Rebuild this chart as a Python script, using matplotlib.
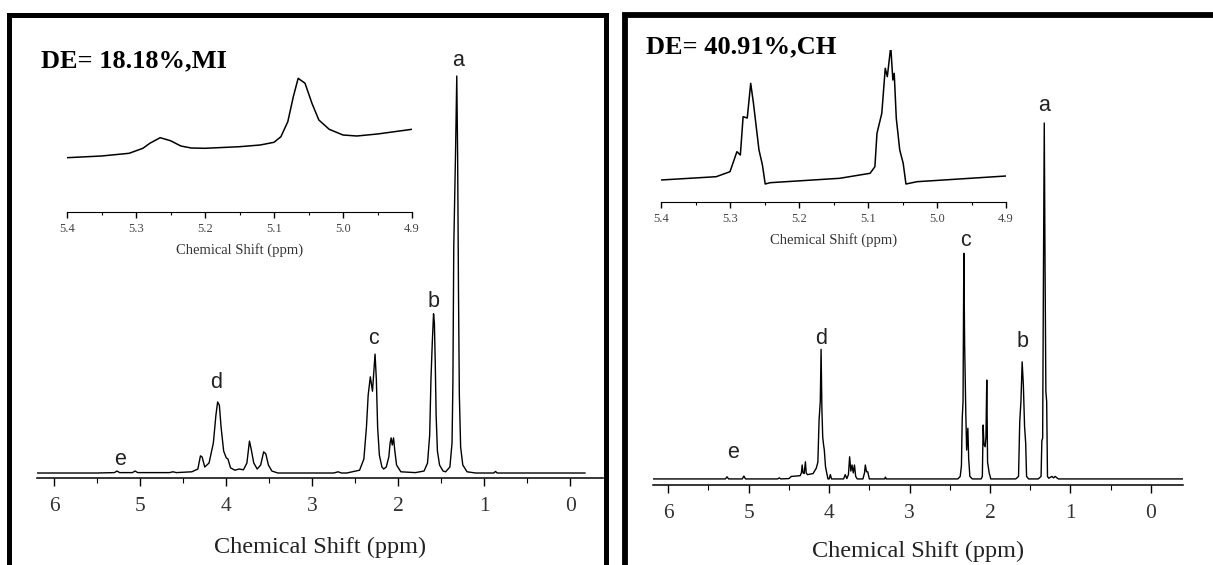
import matplotlib.pyplot as plt
from matplotlib.lines import Line2D
from matplotlib.ticker import MultipleLocator

W, H = 1213, 565

# ---- left panel (MI) main spectrum: ppm / intensity (% of peak a) ----
mi_ppm = [
    6.20, 5.50, 5.30, 5.27, 5.24, 5.09, 5.06, 5.03, 4.66, 4.62, 4.58, 4.40,
    4.33, 4.30, 4.28, 4.25, 4.20, 4.15, 4.12, 4.10, 4.08, 4.06, 4.03, 4.00, 3.98, 3.95,
    3.90, 3.85, 3.80, 3.76, 3.73, 3.71, 3.68, 3.64, 3.60, 3.565, 3.54, 3.51, 3.47, 3.40,
    2.75, 2.70, 2.66, 2.60,
    2.45, 2.40, 2.37, 2.35, 2.325, 2.30, 2.27, 2.255, 2.24, 2.22, 2.19,
    2.17, 2.14, 2.11, 2.095, 2.083, 2.07, 2.055, 2.04, 2.02, 1.97,
    1.80, 1.70, 1.66, 1.635, 1.62, 1.605, 1.59, 1.58, 1.57, 1.56, 1.545, 1.52, 1.48,
    1.45, 1.40, 1.375, 1.365, 1.355, 1.335, 1.32, 1.31, 1.30, 1.29, 1.275, 1.25, 1.20,
    1.10, 0.89, 0.87, 0.85, 0.60, -0.17,
]
mi_int = [
    0.5, 0.5, 0.6, 1.0, 0.6, 0.6, 1.0, 0.6, 0.6, 0.8, 0.6, 0.8,
    1.5, 4.8, 4.5, 2.0, 3.0, 8.0, 15.0, 18.3, 17.5, 12.0, 6.0, 4.3, 4.0, 1.8,
    1.2, 1.5, 1.3, 3.0, 8.5, 6.5, 3.0, 1.5, 2.5, 5.8, 5.3, 2.5, 1.0, 0.5,
    0.5, 0.8, 0.5, 0.5,
    1.2, 4.0, 12.0, 20.0, 24.6, 21.0, 30.3, 24.0, 12.0, 5.0, 2.0,
    1.5, 2.0, 4.5, 8.0, 9.3, 7.5, 9.3, 6.0, 2.5, 0.8,
    0.6, 1.0, 3.0, 10.0, 24.0, 33.0, 40.4, 38.0, 28.0, 15.0, 6.0, 2.5, 1.0,
    0.8, 2.0, 8.0, 23.0, 57.0, 80.0, 100.0, 80.0, 46.0, 20.0, 7.0, 2.5, 0.8,
    0.5, 0.5, 0.9, 0.5, 0.5, 0.5,
]

# left inset (5.4 - 4.9 ppm), intensity in arbitrary units
mi_in_ppm = [5.40, 5.35, 5.31, 5.29, 5.28, 5.265, 5.25, 5.235, 5.22, 5.20, 5.15, 5.12,
             5.10, 5.09, 5.08, 5.072, 5.065, 5.055, 5.045, 5.035, 5.02, 5.00, 4.98,
             4.95, 4.90]
mi_in_int = [54.3, 56.0, 58.7, 63.7, 68.7, 74.3, 71.3, 66.0, 64.0, 63.7, 65.3, 67.0,
             69.7, 75.3, 90.3, 115.3, 133.7, 128.7, 108.7, 92.0, 82.7, 77.0, 76.0,
             78.0, 82.7]

# ---- right panel (CH) main spectrum ----
ch_ppm = [
    6.19, 5.40, 5.29, 5.27, 5.25, 5.08, 5.06, 5.04, 4.64, 4.62, 4.60, 4.50, 4.47,
    4.36, 4.345, 4.335, 4.325, 4.31, 4.295, 4.285, 4.27, 4.20, 4.16, 4.14, 4.125,
    4.11, 4.10, 4.09, 4.08, 4.07, 4.06, 4.045, 4.03, 4.015, 4.00, 3.985, 3.97,
    3.85, 3.82, 3.80, 3.78, 3.76, 3.745, 3.73, 3.715, 3.70, 3.685, 3.67, 3.65,
    3.58, 3.56, 3.55, 3.535, 3.52, 3.50, 3.40, 3.31, 3.30, 3.29,
    2.40, 2.37, 2.355, 2.345, 2.335, 2.325, 2.315, 2.30, 2.29, 2.275, 2.265, 2.25, 2.22,
    2.11, 2.095, 2.085, 2.075, 2.06, 2.05, 2.04, 2.03, 2.01, 1.99,
    1.68, 1.645, 1.63, 1.615, 1.60, 1.585, 1.57, 1.556, 1.545, 1.52,
    1.40, 1.365, 1.355, 1.345, 1.335, 1.325, 1.315, 1.305, 1.295, 1.285, 1.27,
    1.23, 1.21, 1.19, 1.15, -0.40,
]
ch_int = [
    0.3, 0.3, 0.3, 0.9, 0.3, 0.3, 1.1, 0.3, 0.3, 0.6, 0.3, 0.4, 1.0,
    1.2, 2.0, 4.2, 2.0, 1.8, 5.1, 2.0, 1.5, 1.8, 3.3, 5.0, 16.8,
    22.0, 36.6, 20.0, 12.1, 10.0, 8.4, 3.7, 2.0, 0.3, 0.3, 1.5, 0.3,
    0.3, 0.3, 1.5, 0.4, 1.5, 6.5, 2.5, 4.2, 2.0, 4.2, 1.0, 0.3,
    0.3, 2.0, 4.2, 2.3, 2.3, 0.3, 0.3, 0.3, 0.8, 0.3,
    0.3, 1.0, 4.0, 17.3, 22.0, 63.5, 37.8, 18.0, 8.4, 14.5, 6.0, 1.0, 0.3,
    0.3, 1.0, 15.4, 10.0, 9.3, 12.0, 28.0, 5.0, 2.0, 0.3,
    0.3, 1.0, 16.3, 22.0, 33.1, 26.6, 15.0, 10.3, 1.0, 0.3,
    0.3, 1.0, 11.0, 11.7, 58.8, 100.0, 59.0, 24.7, 22.0, 1.0, 0.5,
    1.0, 0.6, 1.0, 0.3, 0.3,
]

# right inset
ch_in_ppm = [5.40, 5.32, 5.30, 5.29, 5.285, 5.281, 5.275, 5.27, 5.266, 5.262,
             5.258, 5.253, 5.249, 5.242, 5.141, 5.097, 5.09, 5.087, 5.08, 5.075,
             5.072, 5.067, 5.064, 5.062, 5.059, 5.054, 5.049, 5.045, 5.029, 4.90]
ch_in_int = [22.0, 25.3, 30.3, 50.3, 47.0, 85.3, 84.0, 118.7, 98.7, 75.3,
             52.0, 37.0, 18.0, 19.3, 23.7, 28.7, 35.3, 68.7, 88.7, 133.7,
             125.3, 155.3, 122.0, 128.7, 83.7, 52.0, 38.7, 18.0, 20.3, 26.0]

main_ticks = [0, 1, 2, 3, 4, 5, 6]
inset_ticks = [4.9, 5.0, 5.1, 5.2, 5.3, 5.4]
peak_names = ["a", "b", "c", "d", "e"]
mi_label_xy = [(1.31, 103.8), (1.59, 43.6), (2.29, 34.1), (4.12, 23.1), (5.24, 3.8)]
ch_label_xy = [(1.33, 104.8), (1.60, 38.9), (2.31, 67.2), (4.10, 39.5), (5.19, 7.6)]
titles = ["DE= 18.18%,MI", "DE= 40.91%,CH"]

SERIF = "Liberation Serif"
SANS = "Liberation Sans"


def rect(x0, x1, y_top, y_bot):
    # pixel box -> figure fraction
    return [x0 / W, 1 - y_bot / H, (x1 - x0) / W, (y_bot - y_top) / H]


def style_axis(ax, major, minor, labelsize, color, length):
    for s in ["left", "right", "top"]:
        ax.spines[s].set_visible(False)
    ax.spines["bottom"].set_linewidth(1.1 if length > 4 else 0.8)
    ax.set_yticks([])
    ax.xaxis.set_major_locator(MultipleLocator(major))
    ax.xaxis.set_minor_locator(MultipleLocator(minor))
    ax.tick_params(axis="x", which="major", direction="out", length=length,
                   width=1, labelsize=labelsize, labelcolor=color,
                   pad=8 if length > 4 else 4)
    ax.tick_params(axis="x", which="minor", direction="out", length=length * 0.6, width=0.8)
    ax.patch.set_alpha(0)


fig = plt.figure(figsize=(W / 100, H / 100), dpi=100)

panels = [
    dict(main=(37, 603, 40, 478), zero=475, full=76, xlim=(6.2, -0.38),
         ppm=mi_ppm, inten=mi_int, labels=mi_label_xy, lab_off=69,
         inset=(67, 412, 60, 212), in_ppm=mi_in_ppm, in_int=mi_in_int,
         title_xy=(41, 61)),
    dict(main=(653, 1183, 60, 485), zero=480, full=123, xlim=(6.19, -0.40),
         ppm=ch_ppm, inten=ch_int, labels=ch_label_xy, lab_off=66,
         inset=(661, 1006, 50, 202), in_ppm=ch_in_ppm, in_int=ch_in_int,
         title_xy=(646, 47)),
]

for p, title in zip(panels, titles):
    x0, x1, yt, yb = p["main"]
    ax = fig.add_axes(rect(x0, x1, yt, yb))
    scale = (p["zero"] - p["full"]) / 100.0
    ymin = -(yb - p["zero"]) / scale
    ax.set_ylim(ymin, ymin + (yb - yt) / scale)
    ax.set_xlim(*p["xlim"])
    ax.plot(p["ppm"], p["inten"], color="black", lw=1.0)
    style_axis(ax, 1, 0.5, 15.5, "#333333", 6)
    ax.set_xticks(main_ticks)
    ax.set_xticklabels([str(t) for t in main_ticks], fontfamily=SERIF)
    ax.set_xlabel("Chemical Shift (ppm)", fontfamily=SERIF, fontsize=17.5, color="#222222")
    ax.xaxis.set_label_coords(0.5, -p["lab_off"] / (yb - yt))
    ax.xaxis.label.set_va("center")
    for name, (lx, ly) in zip(peak_names, p["labels"]):
        ax.text(lx, ly, name, fontfamily=SANS, fontsize=15.5, ha="center", va="center",
                color="#222222")

    ix0, ix1, iyt, iyb = p["inset"]
    axi = fig.add_axes(rect(ix0, ix1, iyt, iyb))
    axi.set_xlim(5.4, 4.9)
    axi.set_ylim(0, iyb - iyt)
    axi.plot(p["in_ppm"], p["in_int"], color="black", lw=1.1)
    style_axis(axi, 0.1, 0.05, 9, "#444444", 4)
    axi.set_xticks(inset_ticks)
    axi.set_xticklabels(["%.1f" % t for t in inset_ticks], fontfamily=SERIF)
    axi.set_xlabel("Chemical Shift (ppm)", fontfamily=SERIF, fontsize=10.5, color="#333333")
    axi.xaxis.set_label_coords(0.5, -38 / (iyb - iyt))
    axi.xaxis.label.set_va("center")

    tx, ty = p["title_xy"]
    fig.text(tx / W, 1 - ty / H, title, fontfamily=SERIF, fontweight="bold",
             fontsize=19, ha="left", va="center")

# thick black frames round each panel (open at the bottom)
frame_kw = dict(color="black", solid_joinstyle="miter", solid_capstyle="projecting")
fig.add_artist(Line2D([9 / W, 9 / W, 605.5 / W, 605.5 / W],
                      [-0.1, 1 - 14.5 / H, 1 - 14.5 / H, -0.1], lw=3.6, **frame_kw))
fig.add_artist(Line2D([625 / W, 625 / W, 1.1],
                      [-0.1, 1 - 14.5 / H, 1 - 14.5 / H], lw=4.2, **frame_kw))

fig.savefig("out.png", dpi=100)
